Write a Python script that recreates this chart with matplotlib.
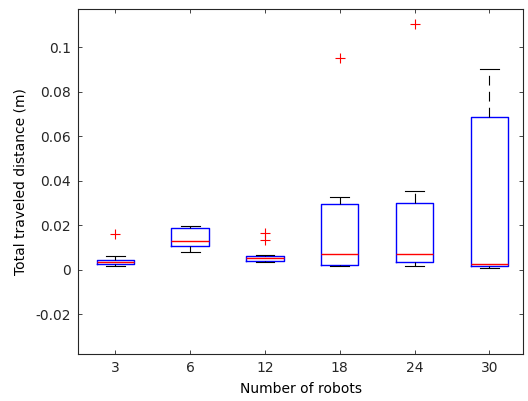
import matplotlib
matplotlib.use("Agg")
import matplotlib.pyplot as plt

# ---- data ----
robots = ['3', '6', '12', '18', '24', '30']
q1 = [0.0027, 0.0105, 0.0038, 0.0021, 0.0032, 0.0014]
med = [0.0035, 0.0129, 0.0051, 0.0072, 0.0072, 0.0023]
q3 = [0.0044, 0.0187, 0.0063, 0.0293, 0.0299, 0.0686]
whislo = [0.0014, 0.0080, 0.0032, 0.0014, 0.0017, 0.0005]
whishi = [0.0059, 0.0194, 0.0065, 0.0326, 0.0353, 0.0905]
fliers = [[0.0161], [], [0.0134, 0.0164], [0.0952], [0.1104], []]
yticks = [-0.02, 0, 0.02, 0.04, 0.06, 0.08, 0.1]
yticklabels = ['-0.02', '0', '0.02', '0.04', '0.06', '0.08', '0.1']

plt.rcParams['font.family'] = ['DejaVu Sans']
plt.rcParams['lines.scale_dashes'] = False

fig = plt.figure(figsize=(5.28, 4.01), dpi=100)
ax = fig.add_axes([78/528, 1-354/401, (523-78)/528, (354-9)/401])

stats = []
for i in range(len(robots)):
    stats.append(dict(med=med[i], q1=q1[i], q3=q3[i],
                      whislo=whislo[i], whishi=whishi[i], fliers=fliers[i]))

positions = list(range(1, len(robots) + 1))
ax.bxp(stats, positions=positions, widths=0.5, capwidths=0.25,
       boxprops=dict(color='#0000ff', lw=1.0),
       medianprops=dict(color='#ff0000', lw=1.0),
       whiskerprops=dict(color='black', lw=0.8, linestyle=(0, (7, 4.5))),
       capprops=dict(color='black', lw=0.8),
       flierprops=dict(marker='+', markeredgecolor='#ff0000', markersize=7,
                       markeredgewidth=0.8, linestyle='none'),
       manage_ticks=False)

ax.set_xlim(0.5, 6.45)
ax.set_ylim(-0.038, 0.1173)
ax.set_xticks(positions)
ax.set_xticklabels(robots)
ax.set_yticks(yticks)
ax.set_yticklabels(yticklabels)

axcol = '#262626'
for s in ax.spines.values():
    s.set_color(axcol)
    s.set_linewidth(0.8)
ax.tick_params(direction='in', length=3, width=0.6, color=axcol,
               labelcolor=axcol, labelsize=10, top=True, right=True, pad=5)
ax.set_xlabel('Number of robots', fontsize=10, color='black', labelpad=5)
ax.set_ylabel('Total traveled distance (m)', fontsize=10, color='black', labelpad=6)

fig.savefig('out.png', dpi=100)
